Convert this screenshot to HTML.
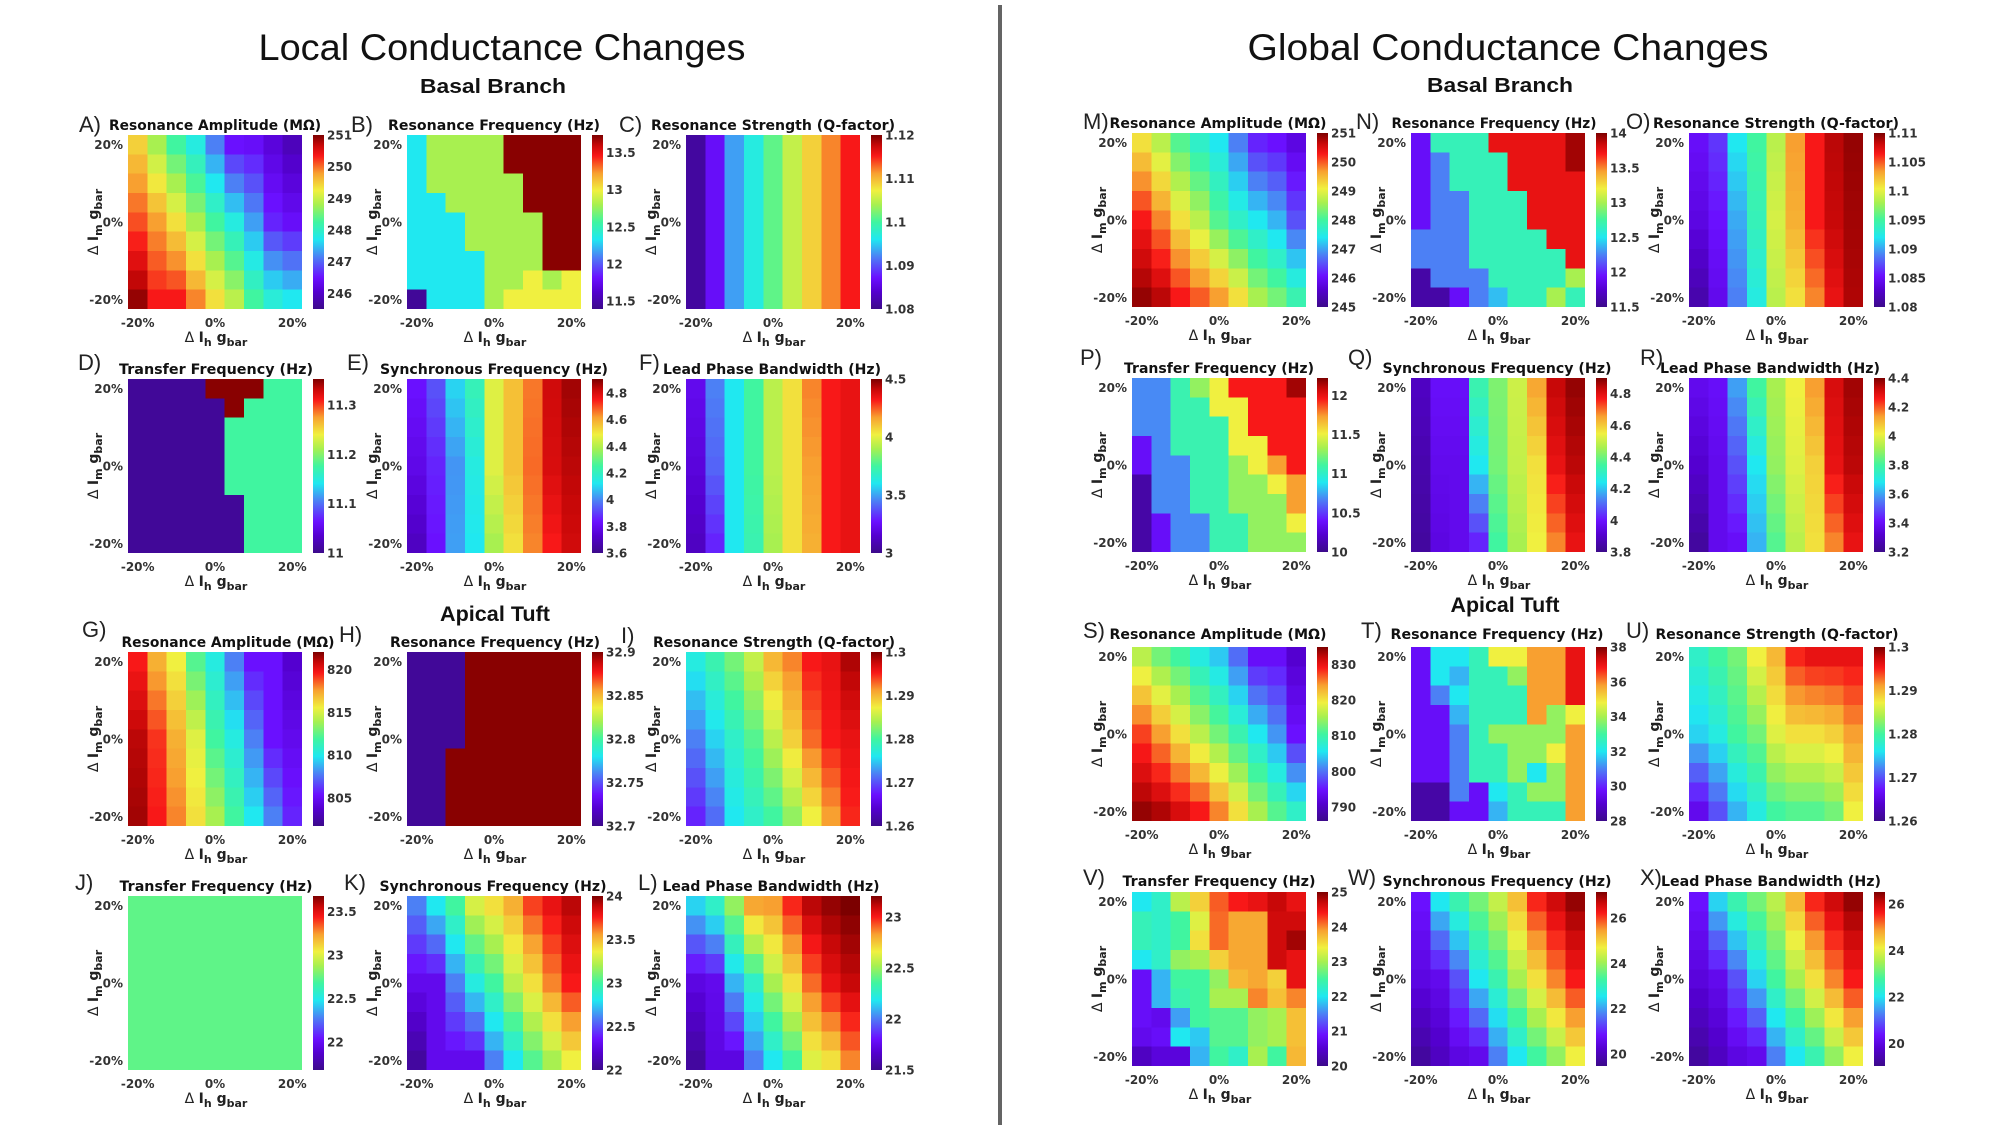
<!DOCTYPE html>
<html><head><meta charset="utf-8">
<style>
html,body{margin:0;padding:0;background:#fff;}
svg{display:block;}
.ti{font-family:"DejaVu Sans","Liberation Sans",sans-serif;font-weight:bold;font-size:14px;fill:#111;}
.tk{font-family:"DejaVu Sans","Liberation Sans",sans-serif;font-weight:bold;font-size:12px;fill:#333;}
.ax{font-family:"DejaVu Sans","Liberation Sans",sans-serif;font-size:14px;fill:#222;}
.lb{font-family:"Liberation Sans",sans-serif;font-size:22px;fill:#222;}
.hd{font-family:"Liberation Sans",sans-serif;fill:#111;}
</style></head><body>
<svg id="s" width="2000" height="1125" xmlns="http://www.w3.org/2000/svg">
<defs>
<linearGradient id="cm" x1="0" y1="1" x2="0" y2="0">
<stop offset="0" stop-color="rgb(60,10,138)"/>
<stop offset="0.1" stop-color="rgb(84,0,208)"/>
<stop offset="0.18" stop-color="rgb(106,16,255)"/>
<stop offset="0.3" stop-color="rgb(76,128,245)"/>
<stop offset="0.4" stop-color="rgb(32,232,240)"/>
<stop offset="0.5" stop-color="rgb(64,245,160)"/>
<stop offset="0.6" stop-color="rgb(168,240,80)"/>
<stop offset="0.68" stop-color="rgb(240,240,64)"/>
<stop offset="0.78" stop-color="rgb(248,160,48)"/>
<stop offset="0.88" stop-color="rgb(248,24,24)"/>
<stop offset="0.94" stop-color="rgb(200,8,8)"/>
<stop offset="1" stop-color="rgb(124,0,0)"/>
</linearGradient>
</defs>
<rect width="2000" height="1125" fill="#fff"/>
<line x1="1000" y1="5" x2="1000" y2="1125" stroke="#646464" stroke-width="4"/>
<text class="hd" x="502" y="60" font-size="37" text-anchor="middle" textLength="487" lengthAdjust="spacingAndGlyphs">Local Conductance Changes</text>
<text class="hd" x="1508" y="60" font-size="37" text-anchor="middle" textLength="521" lengthAdjust="spacingAndGlyphs">Global Conductance Changes</text>
<text class="hd" x="493" y="93" font-size="20" font-weight="bold" text-anchor="middle" textLength="146" lengthAdjust="spacingAndGlyphs">Basal Branch</text>
<text class="hd" x="1500" y="92" font-size="20" font-weight="bold" text-anchor="middle" textLength="146" lengthAdjust="spacingAndGlyphs">Basal Branch</text>
<text class="hd" x="495" y="621" font-size="21" font-weight="bold" text-anchor="middle" textLength="110" lengthAdjust="spacingAndGlyphs">Apical Tuft</text>
<text class="hd" x="1505" y="612" font-size="21" font-weight="bold" text-anchor="middle" textLength="109" lengthAdjust="spacingAndGlyphs">Apical Tuft</text>
<g id="cells" shape-rendering="crispEdges"></g>
<g id="txt"></g>
</svg>
<script>
(function(){
var ST=[[0,[60,10,138]],[0.1,[84,0,208]],[0.18,[106,16,255]],[0.3,[76,128,245]],[0.4,[32,232,240]],[0.5,[64,245,160]],[0.6,[168,240,80]],[0.68,[240,240,64]],[0.78,[248,160,48]],[0.88,[248,24,24]],[0.94,[200,8,8]],[1,[124,0,0]]];
function cm(t){t=Math.max(0,Math.min(1,t));for(var i=1;i<ST.length;i++){if(t<=ST[i][0]){var a=ST[i-1],b=ST[i],f=(t-a[0])/(b[0]-a[0]);var c=[0,1,2].map(function(k){return Math.round(a[1][k]+f*(b[1][k]-a[1][k]));});return 'rgb('+c.join(',')+')';}}return 'rgb(124,0,0)';}
function tri(a,m,b){var M=[];for(var r=0;r<9;r++){var row=[];for(var c=0;c<9;c++){var v;if(r<=4){v=a[c]+(m[c]-a[c])*(r/4);}else{v=m[c]+(b[c]-m[c])*((r-4)/4);}row.push(v);}M.push(row);}return M;}
function ch(rows,map){return rows.map(function(s){return s.split('').map(function(x){return map[x];});});}
function fl(v){var M=[];for(var r=0;r<9;r++){var row=[];for(var c=0;c<9;c++)row.push(v);M.push(row);}return M;}

var mB={c:0.4,h:0.6,d:0.99,y:0.68,k:0.02};
var mD={k:0.02,d:0.99,g:0.5};
var mN={r:0.9,d:0.97,t:0.47,b:0.3,v:0.17,k:0.04,l:0.36,h:0.6};
var mP={b:0.31,t:0.48,h:0.58,y:0.68,r:0.88,d:0.97,v:0.17,k:0.04,o:0.78};
var mT={v:0.17,c:0.4,l:0.35,t:0.47,y:0.68,h:0.58,O:0.78,r:0.9,b:0.3,k:0.04};

var RA='Resonance Amplitude (MΩ)',RF='Resonance Frequency (Hz)',RS='Resonance Strength (Q-factor)',TF='Transfer Frequency (Hz)',SF='Synchronous Frequency (Hz)',LP='Lead Phase Bandwidth (Hz)';

var P=[
['A)',79,132,RA,215,212,130,128,135,['251','250','249','248','247','246'],0,0.91,
 tri([0.72,0.6,0.5,0.42,0.3,0.18,0.17,0.12,0.07],[0.84,0.78,0.7,0.6,0.5,0.42,0.33,0.2,0.17],[0.98,0.88,0.88,0.8,0.7,0.62,0.5,0.43,0.4])],
['B)',351,132,RF,494,212,130,407,135,['13.5','13','12.5','12','11.5'],0.1,0.955,
 ch(['chhhhdddd','chhhhdddd','chhhhhddd','cchhhhddd','ccchhhhdd','ccchhhhdd','cccchhhdd','cccchhyhy','kccchyyyy'],mB)],
['C)',619,132,RS,773,244,130,686,135,['1.12','1.11','1.1','1.09','1.08'],0,1,
 tri([0.03,0.17,0.33,0.42,0.53,0.63,0.72,0.8,0.88],[0.03,0.17,0.33,0.42,0.53,0.63,0.72,0.8,0.88],[0.03,0.17,0.33,0.42,0.53,0.63,0.72,0.8,0.88])],
['D)',78,370,TF,216,194,374,128,379,['11.3','11.2','11.1','11'],0.15,1,
 ch(['kkkkdddgg','kkkkkdggg','kkkkkgggg','kkkkkgggg','kkkkkgggg','kkkkkgggg','kkkkkkggg','kkkkkkggg','kkkkkkggg'],mD)],
['E)',347,370,SF,494,228,374,407,379,['4.8','4.6','4.4','4.2','4','3.8','3.6'],0.08,1,
 tri([0.18,0.25,0.38,0.47,0.66,0.74,0.81,0.93,0.97],[0.14,0.2,0.32,0.42,0.66,0.74,0.82,0.92,0.95],[0.08,0.18,0.33,0.4,0.6,0.7,0.8,0.88,0.93])],
['F)',639,370,LP,772,218,374,686,379,['4.5','4','3.5','3'],0,1,
 tri([0.15,0.3,0.4,0.5,0.62,0.7,0.8,0.88,0.9],[0.12,0.27,0.4,0.5,0.62,0.7,0.78,0.88,0.9],[0.08,0.2,0.4,0.48,0.6,0.7,0.76,0.88,0.9])],
['G)',82,637,RA,228,213,647,128,652,['820','815','810','805'],0.1,0.84,
 tri([0.88,0.76,0.68,0.52,0.42,0.3,0.18,0.18,0.1],[0.95,0.86,0.76,0.66,0.5,0.42,0.3,0.18,0.15],[0.97,0.88,0.8,0.7,0.6,0.5,0.4,0.3,0.2])],
['H)',339,642,RF,495,210,647,407,652,['32.9','32.85','32.8','32.75','32.7'],0,1,
 ch(['kkkdddddd','kkkdddddd','kkkdddddd','kkkdddddd','kkkdddddd','kkddddddd','kkddddddd','kkddddddd','kkddddddd'],mD)],
['I)',621,643,RS,774,242,647,686,652,['1.3','1.29','1.28','1.27','1.26'],0,1,
 tri([0.42,0.48,0.55,0.63,0.75,0.8,0.88,0.9,0.96],[0.3,0.38,0.45,0.52,0.62,0.72,0.82,0.88,0.9],[0.2,0.28,0.4,0.45,0.5,0.58,0.68,0.78,0.87])],
['J)',75,890,TF,216,193,891,128,896,['23.5','23','22.5','22'],0.09,0.84,fl(0.53)],
['K)',344,890,SF,493,227,891,407,896,['24','23.5','23','22.5','22'],0,1,
 tri([0.3,0.4,0.5,0.65,0.7,0.76,0.85,0.9,0.95],[0.15,0.15,0.3,0.42,0.5,0.62,0.7,0.8,0.88],[0.03,0.15,0.15,0.15,0.3,0.4,0.52,0.6,0.68])],
['L)',638,890,LP,771,217,891,686,896,['23','22.5','22','21.5'],0.12,1,
 tri([0.38,0.45,0.58,0.77,0.78,0.87,0.95,0.98,1.0],[0.13,0.15,0.35,0.45,0.6,0.7,0.82,0.9,0.94],[0.03,0.13,0.13,0.3,0.4,0.5,0.66,0.7,0.8])],
['M)',1083,129,RA,1218,217,128,1132,133,['251','250','249','248','247','246','245'],0,1,
 tri([0.7,0.62,0.52,0.45,0.4,0.3,0.2,0.18,0.13],[0.88,0.8,0.7,0.62,0.52,0.45,0.4,0.35,0.25],[0.98,0.95,0.88,0.83,0.78,0.7,0.6,0.55,0.48])],
['N)',1356,129,RF,1494,205,128,1411,133,['14','13.5','13','12.5','12','11.5'],0,1,
 ch(['vtttrrrrd','vbtttrrrd','vbtttrrrr','vbbtttrrr','vbbtttrrr','bbbttttrr','bbbtttttr','kbbbtttth','kkvblttht'],mN)],
['O)',1626,129,RS,1776,246,128,1689,133,['1.11','1.105','1.1','1.095','1.09','1.085','1.08'],0,1,
 tri([0.17,0.22,0.4,0.5,0.62,0.78,0.88,0.95,0.98],[0.13,0.18,0.34,0.47,0.65,0.76,0.88,0.94,0.97],[0.05,0.15,0.3,0.42,0.62,0.7,0.8,0.9,0.96])],
['P)',1080,365,TF,1219,190,373,1132,378,['12','11.5','11','10.5','10'],0.1,1,
 ch(['bbthyrrrd','bbttyyrrr','bbtttyrrr','vbtttyyrr','vbbtthyor','kbbtthhyo','kbbtthhho','kvbbtthhy','kvbbtthhh'],mP)],
['Q)',1348,365,SF,1497,229,373,1411,378,['4.8','4.6','4.4','4.2','4','3.8'],0.09,1,
 tri([0.08,0.17,0.17,0.48,0.56,0.64,0.77,0.94,0.98],[0.05,0.15,0.15,0.4,0.55,0.63,0.7,0.9,0.95],[0.03,0.13,0.15,0.2,0.5,0.6,0.68,0.8,0.9])],
['R)',1640,365,LP,1770,220,373,1689,378,['4.4','4.2','4','3.8','3.6','3.4','3.2'],0,1,
 tri([0.15,0.17,0.33,0.5,0.6,0.68,0.78,0.92,0.97],[0.1,0.15,0.25,0.4,0.58,0.66,0.72,0.9,0.95],[0.03,0.15,0.17,0.35,0.52,0.62,0.7,0.8,0.9])],
['S)',1083,638,RA,1218,217,639,1132,647,['830','820','810','800','790'],0.1,0.92,
 tri([0.62,0.55,0.5,0.42,0.37,0.28,0.17,0.17,0.1],[0.85,0.78,0.7,0.62,0.55,0.48,0.4,0.32,0.18],[0.98,0.96,0.92,0.88,0.8,0.7,0.6,0.52,0.45])],
['T)',1361,638,RF,1497,213,639,1411,647,['38','36','34','32','30','28'],0,1,
 ch(['vcctyyOOr','vcltthOOr','vbctttOOr','vvltttOhy','vvbthhhhO','vvbtthhyO','vvbtthchO','kkbvcthhO','kkvvltttO'],mT)],
['U)',1626,638,RS,1777,243,639,1689,647,['1.3','1.29','1.28','1.27','1.26'],0,1,
 tri([0.45,0.5,0.55,0.68,0.75,0.87,0.9,0.9,0.9],[0.38,0.42,0.5,0.55,0.66,0.7,0.7,0.72,0.78],[0.15,0.25,0.35,0.42,0.5,0.52,0.52,0.55,0.68])],
['V)',1083,885,TF,1219,193,886,1132,892,['25','24','23','22','21','20'],0,1,
 [[0.4,0.45,0.62,0.72,0.83,0.88,0.9,0.94,0.9],
  [0.47,0.45,0.5,0.66,0.82,0.77,0.77,0.93,0.93],
  [0.47,0.45,0.5,0.7,0.82,0.77,0.77,0.93,0.97],
  [0.4,0.45,0.58,0.6,0.72,0.77,0.77,0.93,0.9],
  [0.17,0.35,0.5,0.5,0.58,0.75,0.77,0.72,0.9],
  [0.17,0.35,0.48,0.5,0.6,0.6,0.8,0.74,0.8],
  [0.17,0.15,0.33,0.5,0.52,0.52,0.58,0.6,0.74],
  [0.15,0.17,0.4,0.37,0.52,0.52,0.58,0.6,0.74],
  [0.08,0.12,0.12,0.35,0.5,0.45,0.6,0.5,0.75]]],
['W)',1348,885,SF,1497,229,886,1411,892,['26','24','22','20'],0.15,0.93,
 tri([0.18,0.4,0.48,0.55,0.63,0.74,0.87,0.93,0.98],[0.13,0.15,0.25,0.4,0.48,0.6,0.7,0.8,0.88],[0.03,0.08,0.13,0.15,0.3,0.4,0.5,0.58,0.68])],
['X)',1640,885,LP,1771,220,886,1689,892,['26','24','22','20'],0.07,0.87,
 tri([0.18,0.38,0.48,0.55,0.62,0.75,0.87,0.93,0.98],[0.12,0.15,0.25,0.38,0.5,0.6,0.7,0.8,0.88],[0.03,0.08,0.13,0.15,0.3,0.4,0.48,0.58,0.68])]
];

var S=174, CW=S/9, cs='', ts='';
P.forEach(function(p){
 var lab=p[0],lx=p[1],ly=p[2],title=p[3],tc=p[4],tw=p[5],tb=p[6],x0=p[7],y0=p[8],ticks=p[9],f0=p[10],f1=p[11],M=p[12];
 for(var r=0;r<9;r++){for(var c=0;c<9;c++){
  var w=(c<8)?CW+0.6:CW, h=(r<8)?CW+0.6:CW;
  cs+='<rect x="'+(x0+c*CW).toFixed(2)+'" y="'+(y0+r*CW).toFixed(2)+'" width="'+w.toFixed(2)+'" height="'+h.toFixed(2)+'" fill="'+cm(M[r][c])+'"/>';
 }}
 cs+='<rect x="'+(x0+185)+'" y="'+y0+'" width="11" height="'+S+'" fill="url(#cm)"/>';
 ts+='<text class="ti" x="'+tc+'" y="'+tb+'" text-anchor="middle" textLength="'+tw+'" lengthAdjust="spacingAndGlyphs">'+title+'</text>';
 ts+='<text class="lb" x="'+lx+'" y="'+ly+'">'+lab+'</text>';
 var yl=['20%','0%','-20%'], xl=['-20%','0%','20%'], pos=[CW/2, S/2, S-CW/2];
 for(var i=0;i<3;i++){
  ts+='<text class="tk" x="'+(x0-5)+'" y="'+(y0+pos[i]+4.5).toFixed(1)+'" text-anchor="end">'+yl[i]+'</text>';
  ts+='<text class="tk" x="'+(x0+pos[i]).toFixed(1)+'" y="'+(y0+S+18)+'" text-anchor="middle">'+xl[i]+'</text>';
 }
 ts+='<text class="ax" x="'+(x0+88)+'" y="'+(y0+S+33)+'" text-anchor="middle">\u0394 <tspan font-weight="bold">I</tspan><tspan dy="4" font-size="11" font-weight="bold">h</tspan><tspan dy="-4" font-weight="bold"> g</tspan><tspan dy="4" font-size="11" font-weight="bold">bar</tspan></text>';
 ts+='<text class="ax" transform="translate('+(x0-30)+','+(y0+87)+') rotate(-90)" text-anchor="middle">\u0394 <tspan font-weight="bold">I</tspan><tspan dy="4" font-size="11" font-weight="bold">m</tspan><tspan dy="-4" font-weight="bold"> g</tspan><tspan dy="4" font-size="11" font-weight="bold">bar</tspan></text>';
 var n=ticks.length;
 for(var j=0;j<n;j++){
  var fy=f0+(f1-f0)*(n>1?j/(n-1):0);
  ts+='<text class="tk" x="'+(x0+199)+'" y="'+(y0+S*fy+4.5).toFixed(1)+'">'+ticks[j]+'</text>';
 }
});
document.getElementById('cells').innerHTML=cs;
document.getElementById('txt').innerHTML=ts;
})();
</script>
</body></html>
